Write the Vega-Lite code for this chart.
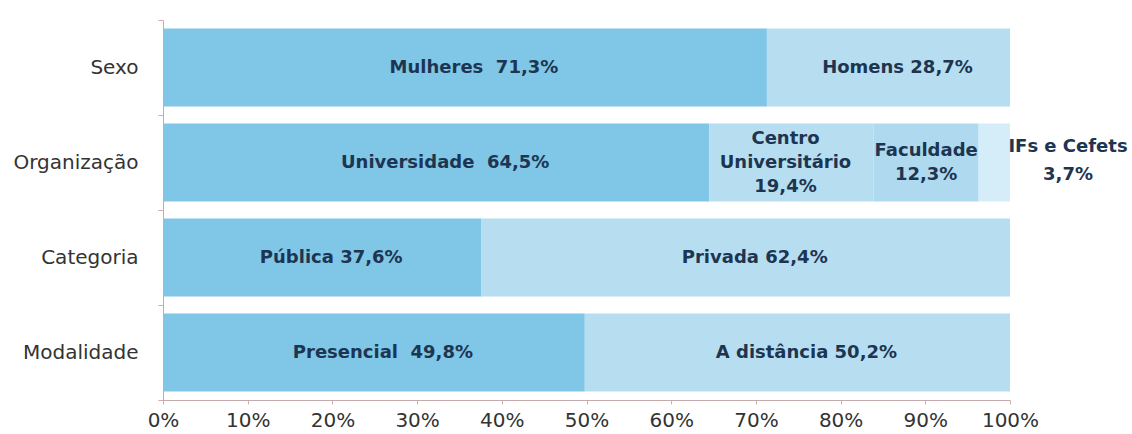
{
  "$schema": "https://vega.github.io/schema/vega-lite/v6.json",
  "width": 847,
  "height": 380,
  "autosize": {"type": "none"},
  "padding": {"left": 163, "top": 20, "right": 122, "bottom": 34},
  "background": "white",
  "config": {"view": {"stroke": null}, "font": "DejaVu Sans"},
  "data": {
    "values": [
      {"dim": "Sexo", "seg": "Mulheres", "val": 71.3, "ordem": 1, "label": "Mulheres\u00a0 71,3%"},
      {"dim": "Sexo", "seg": "Homens", "val": 28.7, "ordem": 2, "label": "Homens 28,7%"},
      {"dim": "Organização", "seg": "Universidade", "val": 64.5, "ordem": 1, "label": "Universidade\u00a0 64,5%"},
      {"dim": "Organização", "seg": "Centro Universitário", "val": 19.4, "ordem": 2, "label": "Centro\nUniversitário\n19,4%"},
      {"dim": "Organização", "seg": "Faculdade", "val": 12.4, "ordem": 3, "label": "Faculdade\n12,3%"},
      {"dim": "Organização", "seg": "IFs e Cefets", "val": 3.7, "ordem": 4, "label": "IFs e Cefets\n3,7%"},
      {"dim": "Categoria", "seg": "Pública", "val": 37.6, "ordem": 1, "label": "Pública 37,6%"},
      {"dim": "Categoria", "seg": "Privada", "val": 62.4, "ordem": 2, "label": "Privada 62,4%"},
      {"dim": "Modalidade", "seg": "Presencial", "val": 49.8, "ordem": 1, "label": "Presencial\u00a0 49,8%"},
      {"dim": "Modalidade", "seg": "A distância", "val": 50.2, "ordem": 2, "label": "A distância 50,2%"}
    ]
  },
  "encoding": {
    "y": {
      "field": "dim",
      "type": "nominal",
      "sort": ["Sexo", "Organização", "Categoria", "Modalidade"],
      "scale": {"paddingInner": 0, "paddingOuter": 0},
      "axis": {
        "title": null,
        "tickBand": "extent",
        "labelFont": "DejaVu Sans",
        "labelFontSize": 20,
        "labelColor": "#333333",
        "labelPadding": 20,
        "tickSize": 5,
        "tickColor": "#d4a9a9",
        "domainColor": "#bfaeae"
      }
    }
  },
  "layer": [
    {
      "mark": {"type": "bar", "height": {"band": 0.82}},
      "encoding": {
        "x": {
          "field": "val",
          "type": "quantitative",
          "stack": "zero",
          "scale": {"domain": [0, 100]},
          "axis": {
            "title": null,
            "values": [0, 10, 20, 30, 40, 50, 60, 70, 80, 90, 100],
            "labelExpr": "datum.value + '%'",
            "labelFont": "DejaVu Sans",
            "labelFontSize": 20,
            "labelColor": "#333333",
            "labelPadding": 6,
            "labelFlush": false,
            "tickSize": 4,
            "tickColor": "#c8b4b4",
            "domainColor": "#c4aaaa",
            "grid": false
          }
        },
        "color": {
          "field": "ordem",
          "type": "ordinal",
          "scale": {"domain": [1, 2, 3, 4], "range": ["#7fc6e7", "#b6def0", "#aed9ee", "#d5edf8"]},
          "legend": null
        },
        "order": {"field": "ordem"}
      }
    },
    {
      "mark": {"type": "text", "font": "DejaVu Sans", "fontWeight": "bold", "fontSize": 18, "color": "#1d3550", "align": "center", "baseline": "middle", "dx": 9},
      "encoding": {
        "x": {"field": "val", "type": "quantitative", "stack": "zero", "bandPosition": 0.5},
        "order": {"field": "ordem"},
        "text": {"condition": {"test": "datum.ordem <= 2 && datum.dim !== 'Organização' || datum.seg === 'Universidade'", "field": "label"}, "value": ""}
      }
    },
    {
      "mark": {"type": "text", "font": "DejaVu Sans", "fontWeight": "bold", "fontSize": 18, "color": "#1d3550", "lineBreak": "\n", "lineHeight": 24, "align": "center", "baseline": "middle", "dy": -24, "dx": -6},
      "encoding": {
        "x": {"field": "val", "type": "quantitative", "stack": "zero", "bandPosition": 0.5},
        "order": {"field": "ordem"},
        "text": {"condition": {"test": "datum.seg === 'Centro Universitário'", "field": "label"}, "value": ""}
      }
    },
    {
      "mark": {"type": "text", "font": "DejaVu Sans", "fontWeight": "bold", "fontSize": 18, "color": "#1d3550", "lineBreak": "\n", "lineHeight": 24, "align": "center", "baseline": "middle", "dy": -12},
      "encoding": {
        "x": {"field": "val", "type": "quantitative", "stack": "zero", "bandPosition": 0.5},
        "order": {"field": "ordem"},
        "text": {"condition": {"test": "datum.seg === 'Faculdade'", "field": "label"}, "value": ""}
      }
    },
    {
      "transform": [{"filter": "datum.seg === 'IFs e Cefets'"}],
      "mark": {"type": "text", "font": "DejaVu Sans", "fontWeight": "bold", "fontSize": 18, "color": "#1d3550", "lineBreak": "\n", "lineHeight": 28, "align": "center", "baseline": "middle", "dx": 58, "dy": -16},
      "encoding": {
        "x": {"datum": 100, "type": "quantitative"},
        "text": {"field": "label"}
      }
    }
  ]
}
